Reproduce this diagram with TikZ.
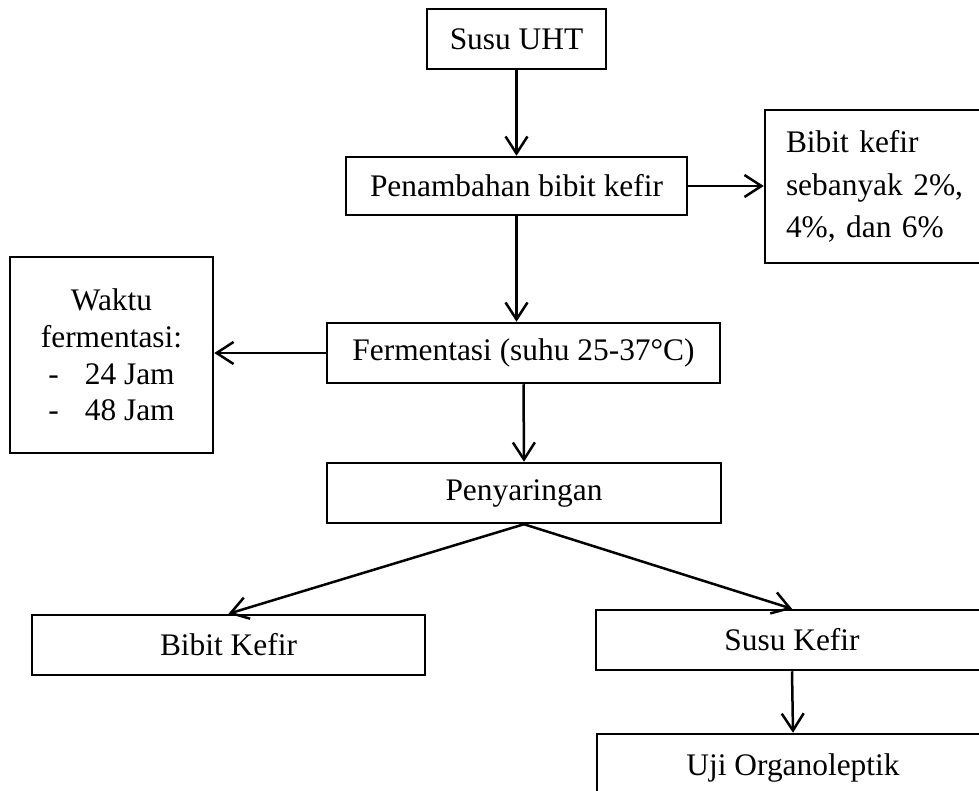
\documentclass[tikz,border=0pt]{standalone}
\usepackage{fontspec}
\setmainfont{Liberation Serif}
\newfontfamily\tightfont{Liberation Serif}[WordSpace=0.8]
\usetikzlibrary{arrows.meta}
\newcommand{\mysz}{\fontsize{31.4pt}{37pt}\selectfont}
\newcommand{\rightsz}{\tightfont\fontsize{31.4pt}{42.5pt}\selectfont}
\newcommand{\leftsz}{\fontsize{31.4pt}{36.7pt}\selectfont}
\tikzset{
  box/.style={draw, line width=2.5pt, inner sep=0pt, font=\mysz, align=center},
  arr/.style={line width=2.5pt, -{Straight Barb[length=17pt,width=22pt]}}
}
\begin{document}
\begin{tikzpicture}[x=1pt,y=-1pt]
\useasboundingbox (0,0) rectangle (979,791);
\clip (0,0) rectangle (979,791);
\node[box, minimum width=179pt, minimum height=60pt] (uht) at (516.5,39) {Susu UHT};
\node[box, minimum width=341pt, minimum height=58pt] (tambah) at (516.5,186) {Penambahan bibit kefir};
\node[box, minimum width=225pt, minimum height=153pt, text width=183pt, inner xsep=21pt, align=left,
      font=\rightsz] (bibit) at (877.5,186.5) {Bibit kefir\\sebanyak 2\%,\\4\%, dan 6\%};
\node[box, minimum width=203pt, minimum height=196pt,
      font=\leftsz] (waktu) at (111.5,355) {Waktu\\fermentasi:\\-\hspace{26pt}24 Jam\\-\hspace{26pt}48 Jam};
\node[box, minimum width=393pt, minimum height=60pt] (ferm) at (523.5,353) {Fermentasi (suhu 25-37°C)};
\node[box, minimum width=394pt, minimum height=60pt] (saring) at (524,493) {Penyaringan};
\node[box, minimum width=393pt, minimum height=60pt] (bkefir) at (228.5,645) {Bibit Kefir};
\node[box, minimum width=392pt, minimum height=60pt] (skefir) at (792,640) {Susu Kefir};
\node[box, minimum width=392pt, minimum height=116pt] (uji) at (793,792) {};
\node[font=\mysz, inner sep=0pt, anchor=base] (ujit) at (793,775) {Uji Organoleptik};
\draw[arr] (uht.south) -- (tambah.north);
\draw[arr] (tambah.east) -- (tambah.east -| bibit.west);
\draw[arr] (tambah.south) -- (tambah.south |- ferm.north);
\draw[arr] (ferm.west) -- (ferm.west -| waktu.east);
\draw[arr] (ferm.south) -- (saring.north);
\draw[arr] (saring.south) -- (bkefir.north);
\draw[arr] (saring.south) -- (skefir.north);
\draw[arr] (skefir.south) -- (uji.north);
\end{tikzpicture}
\end{document}
